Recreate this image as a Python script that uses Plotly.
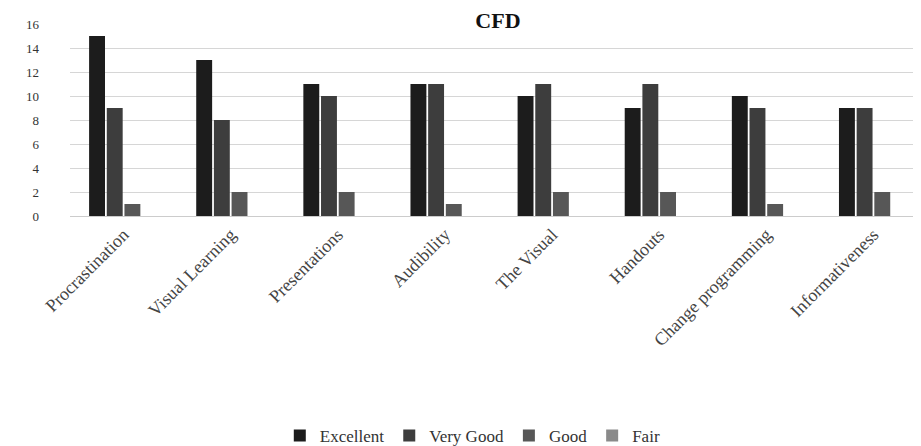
import plotly.graph_objects as go

categories = ["Procrastination", "Visual Learning", "Presentations", "Audibility",
              "The Visual", "Handouts", "Change programming", "Informativeness"]
excellent = [15, 13, 11, 11, 10, 9, 10, 9]
very_good = [9, 8, 10, 11, 11, 11, 9, 9]
good = [1, 2, 2, 1, 2, 2, 1, 2]
fair = [0, 0, 0, 0, 0, 0, 0, 0]
y_ticks = [0, 2, 4, 6, 8, 10, 12, 14, 16]

series = [
    ("Excellent", excellent, "#1c1c1c"),
    ("Very Good", very_good, "#3d3d3d"),
    ("Good", good, "#575757"),
    ("Fair", fair, "#8a8a8a"),
]

fig = go.Figure()
for name, vals, col in series:
    fig.add_trace(go.Bar(
        x=categories, y=vals, name=name,
        marker=dict(color=col, line=dict(width=0)),
    ))

fig.update_layout(
    width=921, height=446,
    barmode="group", bargap=0.34, bargroupgap=0.1,
    plot_bgcolor="white", paper_bgcolor="white",
    font=dict(family="Liberation Serif", size=12, color="#333"),
    title=dict(text="<b>CFD</b>", x=0.532, xanchor="center", y=0.99, yanchor="top",
               pad=dict(t=0, b=0),
               font=dict(family="Liberation Serif", size=22, color="#111")),
    margin=dict(l=62, r=2, t=16, b=238),
    xaxis=dict(tickangle=-45, showgrid=False, showline=True, linecolor="#ccc",
               tickfont=dict(size=18, color="#444")),
    yaxis=dict(range=[0, 16], tickvals=y_ticks, showgrid=True, gridcolor="#d6d6d6",
               zeroline=False, ticklabelstandoff=30,
               tickfont=dict(size=13, color="#333")),
    legend=dict(orientation="h", x=0.47, xanchor="center", yref="container",
                y=0.0, yanchor="bottom", font=dict(size=17, color="#333"),
                itemwidth=30, tracegroupgap=0),
)

fig.write_html("out.html")
